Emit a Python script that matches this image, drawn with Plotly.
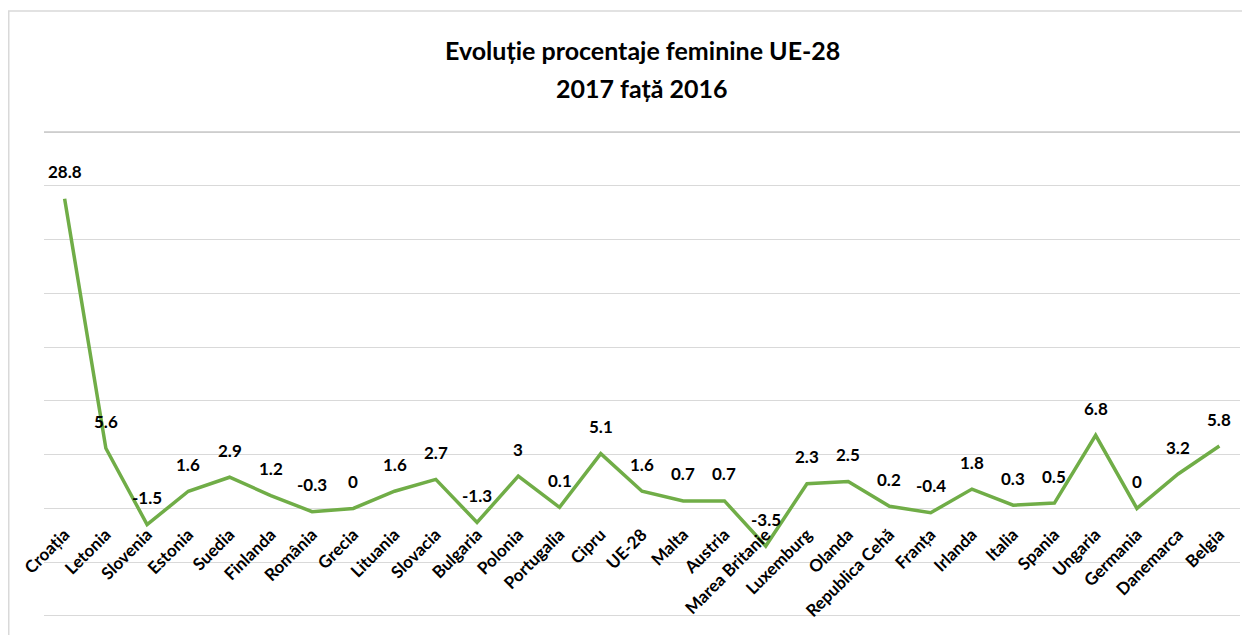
import plotly.graph_objects as go

countries = ["Croația", "Letonia", "Slovenia", "Estonia", "Suedia", "Finlanda", "România",
             "Grecia", "Lituania", "Slovacia", "Bulgaria", "Polonia", "Portugalia", "Cipru",
             "UE-28", "Malta", "Austria", "Marea Britanie", "Luxemburg", "Olanda",
             "Republica Cehă", "Franța", "Irlanda", "Italia", "Spania", "Ungaria",
             "Germania", "Danemarca", "Belgia"]
values = [28.8, 5.6, -1.5, 1.6, 2.9, 1.2, -0.3, 0, 1.6, 2.7, -1.3, 3, 0.1, 5.1, 1.6,
          0.7, 0.7, -3.5, 2.3, 2.5, 0.2, -0.4, 1.8, 0.3, 0.5, 6.8, 0, 3.2, 5.8]

title_lines = ["Evoluție procentaje feminine UE-28", "2017 față 2016"]

y_min, y_max = -10, 35
pad = 0.28
FONT = "Lato, 'Open Sans', sans-serif"
GRID = "#D9D9D9"

W, H = 1242, 627
ML, MR, MT, MB = 36, 10, 121, 16

fig = go.Figure()
fig.add_trace(go.Scatter(
    x=countries, y=values, mode="lines",
    line=dict(color="#70AD47", width=3.5),
    hoverinfo="x+y", showlegend=False,
))

for c, v in zip(countries, values):
    fig.add_annotation(x=c, y=v, text=f"<b>{v:g}</b>", showarrow=False,
                       yshift=27, font=dict(size=17, color="#000000", family=FONT))

for line, shift in zip(title_lines, [79, 41]):
    fig.add_annotation(xref="paper", yref="paper", x=0.5, y=1, yshift=shift,
                       text="<b>" + line + "</b>", showarrow=False,
                       font=dict(size=25, color="#000000", family=FONT),
                       yanchor="middle", xanchor="center")

zero_pos = (0 - y_min + pad) / (y_max - y_min + 2 * pad)

ph = H - MT - MB
pw = W - ML - MR
fig.update_layout(
    width=W, height=H,
    margin=dict(l=ML, r=MR, t=MT, b=MB, autoexpand=False),
    plot_bgcolor="white", paper_bgcolor="white",
    font=dict(family=FONT, color="#000000"),
    xaxis=dict(
        type="category", anchor="free", position=zero_pos, automargin=False,
        range=[-0.5, len(countries) - 0.5],
        showgrid=False, showline=False, zeroline=False,
        tickangle=-45, ticks="", ticklabelstandoff=12,
        tickfont=dict(size=17, family=FONT, color="#000000", weight="bold"),
    ),
    yaxis=dict(
        range=[y_min - pad, y_max + pad], dtick=5, tick0=0, automargin=False,
        showgrid=True, gridcolor=GRID, gridwidth=1,
        zeroline=True, zerolinecolor=GRID, zerolinewidth=1,
        showticklabels=False, ticks="", showline=False,
    ),
    shapes=[
        dict(type="rect", xref="paper", yref="paper",
             x0=(0.75 - ML) / pw, x1=(W + 20 - ML) / pw,
             y0=-(MB + 20) / ph, y1=(ph + MT - 3) / ph,
             line=dict(color=GRID, width=1.5), fillcolor="rgba(0,0,0,0)",
             layer="below"),
        dict(type="line", xref="paper", yref="paper", x0=0, x1=1,
             y0=(ph - 3) / ph, y1=(ph - 3) / ph,
             line=dict(color="#C8C8C8", width=1.5), layer="above"),
    ],
)

fig.write_html("out.html")
